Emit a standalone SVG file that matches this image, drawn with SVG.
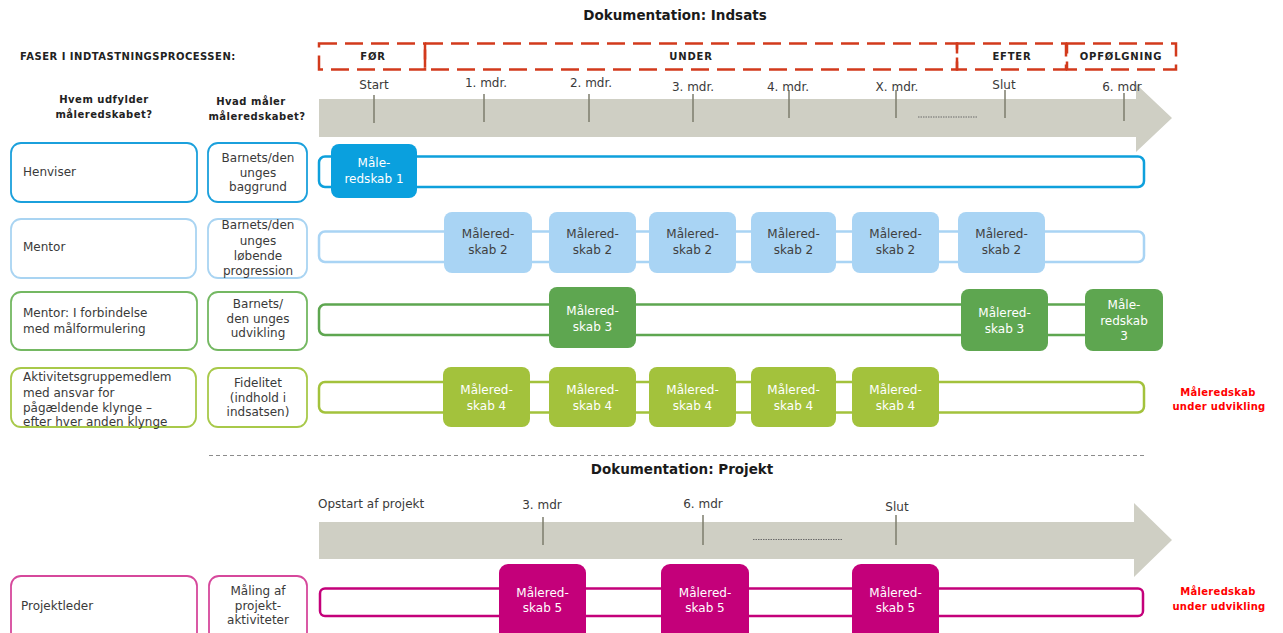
<svg xmlns="http://www.w3.org/2000/svg" width="1283" height="633" viewBox="0 0 1283 633">
<style>
text{font-family:"DejaVu Sans","Verdana",sans-serif;font-size:12px;fill:#3a3a3a}
.h{font-weight:bold;font-size:13.5px;fill:#1a1a1a;text-anchor:middle}
.hb{font-weight:bold;font-size:10px;fill:#222;letter-spacing:0.5px}
.ph{font-weight:bold;font-size:10px;fill:#222;letter-spacing:0.8px;text-anchor:middle}
.red{font-weight:bold;font-size:10px;fill:#ff0000;text-anchor:middle;letter-spacing:0.3px}
.c{text-anchor:middle}
.w{fill:#ffffff;text-anchor:middle}
.d{fill:#404040;text-anchor:middle}
.phase{fill:none;stroke:#d23a1c;stroke-width:2.5;stroke-dasharray:18 8}
.arrow{fill:#cfcfc4}
.tick{stroke:#7c7c6c;stroke-width:1.5}
.dots{stroke:#6a6a6a;stroke-width:1;stroke-dasharray:1.5 1}
.bar{fill:#ffffff;stroke-width:2.5}
.lb{fill:#ffffff;stroke-width:1.8}
</style>

<text class="h" x="675" y="20">Dokumentation: Indsats</text>
<text class="hb" x="20" y="60">FASER I INDTASTNINGSPROCESSEN:</text>

<g id="phases">
<rect class="phase" x="319" y="43.5" width="106" height="26"/>
<rect class="phase" x="425" y="43.5" width="532" height="26"/>
<rect class="phase" x="957" y="43.5" width="109" height="26"/>
<rect class="phase" x="1067" y="43.5" width="109" height="26"/>
<text class="ph" x="373" y="60">FØR</text>
<text class="ph" x="691" y="60">UNDER</text>
<text class="ph" x="1012" y="60">EFTER</text>
<text class="ph" x="1121" y="60">OPFØLGNING</text>
</g>

<g id="timeline1">
<polygon class="arrow" points="319,99 1136,99 1136,84 1172,118 1136,152 1136,137 319,137"/>
<line class="tick" x1="374" y1="95" x2="374" y2="123"/>
<line class="tick" x1="484" y1="94" x2="484" y2="122"/>
<line class="tick" x1="589" y1="94" x2="589" y2="122"/>
<line class="tick" x1="693" y1="94" x2="693" y2="122"/>
<line class="tick" x1="789" y1="90" x2="789" y2="118"/>
<line class="tick" x1="896" y1="90" x2="896" y2="118"/>
<line class="tick" x1="1005" y1="90" x2="1005" y2="118"/>
<line class="tick" x1="1124" y1="93" x2="1124" y2="121"/>
<line class="dots" x1="918" y1="117" x2="977" y2="117"/>
<text class="c" x="374" y="89">Start</text>
<text class="c" x="486" y="87">1. mdr.</text>
<text class="c" x="591" y="87">2. mdr.</text>
<text class="c" x="693" y="91">3. mdr.</text>
<text class="c" x="788" y="91">4. mdr.</text>
<text class="c" x="897" y="91">X. mdr.</text>
<text class="c" x="1004" y="89">Slut</text>
<text class="c" x="1122" y="91">6. mdr</text>
</g>

<text class="hb c" x="104" y="103">Hvem udfylder</text>
<text class="hb c" x="104" y="118">måleredskabet?</text>
<text class="hb c" x="251" y="105">Hvad måler</text>
<text class="hb c" x="257" y="120">måleredskabet?</text>

<g id="row1">
<rect class="lb" x="11" y="143" width="186" height="59" rx="10" stroke="#1ba0dc"/>
<text x="23" y="176">Henviser</text>
<rect class="lb" x="208" y="143" width="99" height="59" rx="10" stroke="#1ba0dc"/>
<text class="c" x="258" y="162">Barnets/den</text>
<text class="c" x="258" y="177">unges</text>
<text class="c" x="258" y="191">baggrund</text>
<rect class="bar" x="319" y="156.5" width="825" height="30.5" rx="6" stroke="#0ea0dc"/>
<rect x="331" y="144" width="86" height="54" rx="8" fill="#0aa0de"/>
<text class="w" x="374" y="167">Måle-</text>
<text class="w" x="374" y="183">redskab 1</text>
</g>

<g id="row2">
<rect class="lb" x="11" y="219" width="185" height="59" rx="10" stroke="#a9d4f2"/>
<text x="23" y="251">Mentor</text>
<rect class="lb" x="208" y="219" width="99" height="59" rx="10" stroke="#a9d4f2"/>
<text class="c" x="258" y="229">Barnets/den</text>
<text class="c" x="258" y="245">unges</text>
<text class="c" x="258" y="260">løbende</text>
<text class="c" x="258" y="275">progression</text>
<rect class="bar" x="319" y="231.5" width="825" height="30.5" rx="6" stroke="#a9d4f4"/>
<g fill="#a9d4f4">
<rect x="444" y="212" width="88" height="61" rx="8"/>
<rect x="549" y="212" width="87" height="61" rx="8"/>
<rect x="649" y="212" width="87" height="61" rx="8"/>
<rect x="751" y="212" width="85" height="61" rx="8"/>
<rect x="852" y="212" width="87" height="61" rx="8"/>
<rect x="958" y="212" width="87" height="61" rx="8"/>
</g>
<text class="d" x="488" y="238">Målered-</text><text class="d" x="488" y="254">skab 2</text>
<text class="d" x="592.5" y="238">Målered-</text><text class="d" x="592.5" y="254">skab 2</text>
<text class="d" x="692.5" y="238">Målered-</text><text class="d" x="692.5" y="254">skab 2</text>
<text class="d" x="793.5" y="238">Målered-</text><text class="d" x="793.5" y="254">skab 2</text>
<text class="d" x="895.5" y="238">Målered-</text><text class="d" x="895.5" y="254">skab 2</text>
<text class="d" x="1001.5" y="238">Målered-</text><text class="d" x="1001.5" y="254">skab 2</text>
</g>

<g id="row3">
<rect class="lb" x="11" y="292" width="186" height="58" rx="10" stroke="#74b862"/>
<text x="23" y="317">Mentor: I forbindelse</text>
<text x="23" y="333">med målformulering</text>
<rect class="lb" x="208" y="292" width="99" height="58" rx="10" stroke="#74b862"/>
<text class="c" x="258" y="308">Barnets/</text>
<text class="c" x="258" y="323">den unges</text>
<text class="c" x="258" y="337">udvikling</text>
<rect class="bar" x="319" y="304.5" width="790" height="30.5" rx="6" stroke="#5ea650"/>
<g fill="#5ea650">
<rect x="549" y="287" width="87" height="61" rx="8"/>
<rect x="961" y="289" width="87" height="62" rx="8"/>
<rect x="1085" y="289" width="78" height="62" rx="8"/>
</g>
<text class="w" x="592.5" y="315">Målered-</text><text class="w" x="592.5" y="331">skab 3</text>
<text class="w" x="1004.5" y="317">Målered-</text><text class="w" x="1004.5" y="333">skab 3</text>
<text class="w" x="1124" y="309">Måle-</text><text class="w" x="1124" y="325">redskab</text><text class="w" x="1124" y="340">3</text>
</g>

<g id="row4">
<rect class="lb" x="11" y="368" width="185" height="59" rx="10" stroke="#a8c94a"/>
<text x="23" y="381">Aktivitetsgruppemedlem</text>
<text x="23" y="397">med ansvar for</text>
<text x="23" y="412">pågældende klynge –</text>
<text x="23" y="426">efter hver anden klynge</text>
<rect class="lb" x="208" y="368" width="99" height="59" rx="10" stroke="#a8c94a"/>
<text class="c" x="258" y="387">Fidelitet</text>
<text class="c" x="258" y="402">(indhold i</text>
<text class="c" x="258" y="416">indsatsen)</text>
<rect class="bar" x="319" y="382" width="825" height="30.5" rx="6" stroke="#a3c23c"/>
<g fill="#a3c23c">
<rect x="443" y="367" width="87" height="60" rx="8"/>
<rect x="549" y="367" width="87" height="60" rx="8"/>
<rect x="649" y="367" width="87" height="60" rx="8"/>
<rect x="751" y="367" width="85" height="60" rx="8"/>
<rect x="852" y="367" width="87" height="60" rx="8"/>
</g>
<text class="w" x="486.5" y="394">Målered-</text><text class="w" x="486.5" y="410">skab 4</text>
<text class="w" x="592.5" y="394">Målered-</text><text class="w" x="592.5" y="410">skab 4</text>
<text class="w" x="692.5" y="394">Målered-</text><text class="w" x="692.5" y="410">skab 4</text>
<text class="w" x="793.5" y="394">Målered-</text><text class="w" x="793.5" y="410">skab 4</text>
<text class="w" x="895.5" y="394">Målered-</text><text class="w" x="895.5" y="410">skab 4</text>
<text class="red" x="1218" y="396">Måleredskab</text>
<text class="red" x="1219" y="410">under udvikling</text>
</g>

<line x1="209" y1="455.5" x2="1144" y2="455.5" stroke="#8c8c8c" stroke-width="1" stroke-dasharray="4 3"/>
<text class="h" x="682" y="474">Dokumentation: Projekt</text>

<g id="timeline2">
<polygon class="arrow" points="319,522 1134,522 1134,503 1172,540 1134,577 1134,559 319,559"/>
<line class="tick" x1="543" y1="517" x2="543" y2="545"/>
<line class="tick" x1="703" y1="515" x2="703" y2="545"/>
<line class="tick" x1="896" y1="515" x2="896" y2="545"/>
<line class="dots" x1="753" y1="539.5" x2="842" y2="539.5"/>
<text x="318" y="508">Opstart af projekt</text>
<text class="c" x="542" y="509">3. mdr</text>
<text class="c" x="703" y="508">6. mdr</text>
<text class="c" x="897" y="511">Slut</text>
</g>

<g id="row5">
<rect class="lb" x="11" y="576" width="186" height="66" rx="10" stroke="#d6489c"/>
<text x="21" y="610">Projektleder</text>
<rect class="lb" x="209" y="576" width="98" height="66" rx="10" stroke="#d6489c"/>
<text class="c" x="258" y="595">Måling af</text>
<text class="c" x="258" y="610">projekt-</text>
<text class="c" x="258" y="624">aktiviteter</text>
<rect class="bar" x="320" y="588.5" width="823" height="27.5" rx="5" stroke="#c4007a"/>
<g fill="#c4007a">
<rect x="499" y="564" width="87" height="78" rx="9"/>
<rect x="661" y="564" width="88" height="78" rx="9"/>
<rect x="852" y="564" width="87" height="78" rx="9"/>
</g>
<text class="w" x="542.5" y="597">Målered-</text><text class="w" x="542.5" y="612">skab 5</text>
<text class="w" x="705" y="597">Målered-</text><text class="w" x="705" y="612">skab 5</text>
<text class="w" x="895.5" y="597">Målered-</text><text class="w" x="895.5" y="612">skab 5</text>
<text class="red" x="1218" y="595">Måleredskab</text>
<text class="red" x="1219" y="610">under udvikling</text>
</g>
</svg>
